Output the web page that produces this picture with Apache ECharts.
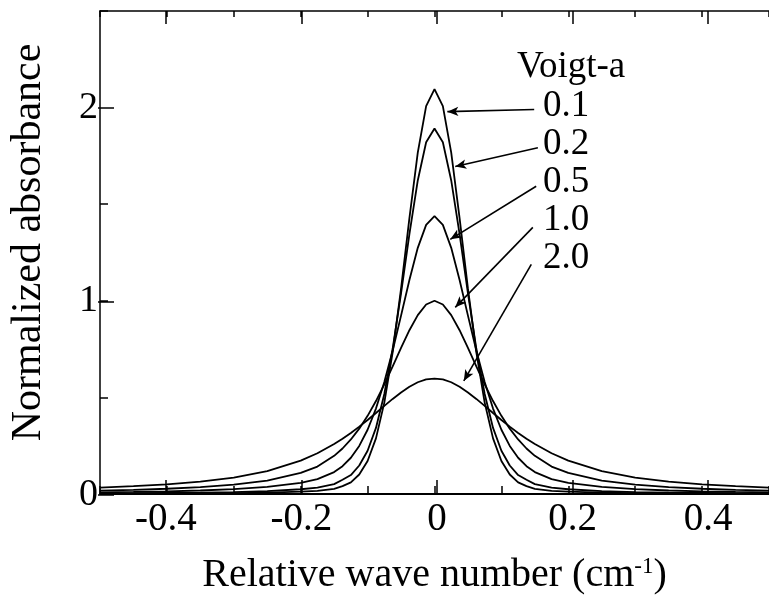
<!DOCTYPE html>
<html><head><meta charset="utf-8">
<script src="https://cdn.jsdelivr.net/npm/echarts@6/dist/echarts.min.js"></script>
<style>html,body{margin:0;padding:0;background:#fff}#c{width:769px;height:600px}</style>
</head><body><div id="c"></div>
<script>
// ---- data ----
const xValues = [-0.5,-0.45,-0.4,-0.35,-0.3,-0.25,-0.2,-0.175,-0.15,-0.1375,-0.125,-0.1125,-0.1,-0.0875,-0.075,-0.0625,-0.05,-0.0375,-0.025,-0.0125,0,
  0.0125,0.025,0.0375,0.05,0.0625,0.075,0.0875,0.1,0.1125,0.125,0.1375,0.15,0.175,0.2,0.25,0.3,0.35,0.4,0.45,0.5];
const voigtA = ['0.1','0.2','0.5','1.0','2.0'];
const curveA01 = [0.0017,0.0022,0.0028,0.0036,0.0050,0.0074,0.0122,0.0162,0.027,0.0409,0.060,0.1008,0.171,0.288,0.473,0.734,1.063,1.428,1.767,2.008,2.096,
  2.008,1.767,1.428,1.063,0.734,0.473,0.288,0.171,0.1008,0.060,0.0409,0.027,0.0162,0.0122,0.0074,0.0050,0.0036,0.0028,0.0022,0.0017];
const curveA02 = [0.0035,0.0043,0.0055,0.0073,0.0101,0.0149,0.0245,0.0326,0.051,0.0734,0.098,0.1475,0.224,0.342,0.518,0.753,1.038,1.345,1.623,1.821,1.892,
  1.821,1.623,1.345,1.038,0.753,0.518,0.342,0.224,0.1475,0.098,0.0734,0.051,0.0326,0.0245,0.0149,0.0101,0.0073,0.0055,0.0043,0.0035];
const curveA05 = [0.0087,0.0108,0.0137,0.0181,0.0249,0.0365,0.058,0.0774,0.1136,0.144,0.1876,0.2488,0.3325,0.4423,0.5798,0.7425,0.9232,1.1079,1.2742,1.3931,1.438,
  1.3931,1.2742,1.1079,0.9232,0.7425,0.5798,0.4423,0.3325,0.2488,0.1876,0.144,0.1136,0.0774,0.058,0.0365,0.0249,0.0181,0.0137,0.0108,0.0087];
const curveA10 = [0.0173,0.0213,0.0271,0.0355,0.0485,0.0695,0.109,0.1421,0.1975,0.2355,0.2822,0.3383,0.4046,0.4811,0.567,0.660,0.7559,0.8478,0.9261,0.981,1.0,
  0.981,0.9261,0.8478,0.7559,0.660,0.567,0.4811,0.4046,0.3383,0.2822,0.2355,0.1975,0.1421,0.109,0.0695,0.0485,0.0355,0.0271,0.0213,0.0173];
const curveA20 = [0.0332,0.0404,0.0502,0.0642,0.0852,0.1185,0.1726,0.2110,0.2585,0.2861,0.3162,0.3487,0.3832,0.4193,0.4560,0.4921,0.5258,0.5554,0.5785,0.5932,0.5975,
  0.5932,0.5785,0.5554,0.5258,0.4921,0.4560,0.4193,0.3832,0.3487,0.3162,0.2861,0.2585,0.2110,0.1726,0.1185,0.0852,0.0642,0.0502,0.0404,0.0332];
// arrow annotations (data coordinates): label end -> curve
const arrowFrom = [[0.149,1.990],[0.1545,1.792],[0.152,1.593],[0.147,1.380],[0.1447,1.189]];
const arrowTo   = [[0.0192,1.979],[0.031,1.695],[0.0236,1.318],[0.031,0.966],[0.0438,0.5855]];
const legendTitle = 'Voigt-a';
const xTitle = 'Relative wave number (cm{sup|-1})';
const yTitle = 'Normalized absorbance';

// ---- chart ----
const FONT = '"Liberation Serif","Times New Roman",serif';
const INK = '#000';
const chart = echarts.init(document.getElementById('c'), null, {renderer:'canvas'});
const gL = 98, gR = -7, gT = 11, gB = 105;
const W = 769 - gL - gR, H = 600 - gT - gB;
const curves = [curveA01, curveA02, curveA05, curveA10, curveA20];

const series = curves.map((vals, i) => ({
  type:'line', xAxisIndex:0, yAxisIndex:0, name: voigtA[i],
  data: xValues.map((x, j) => [x, vals[j]]),
  showSymbol:false, smooth:false, silent:true,
  lineStyle:{color:INK, width:1.8}
}));
series[0].markLine = {
  silent:true, symbol:['none','arrow'], symbolSize:[7,11],
  lineStyle:{color:INK, width:1.6, type:'solid'}, label:{show:false},
  data: arrowFrom.map((f, i) => [{coord:f}, {coord:arrowTo[i]}])
};

const noSplit = {show:false};
const option = {
  animation:false,
  backgroundColor:'#fff',
  grid:[
    {left:gL, right:gR, top:gT, bottom:gB},
    {left:gL + 0.1*W, right:gR + 0.1*W, top:gT, bottom:gB},
    {left:gL, right:gR, top:gT + 0.5*H/2.5, bottom:gB}
  ],
  xAxis:[
    {gridIndex:0, type:'value', min:-0.5, max:0.5, interval:0.1, position:'bottom',
     axisLine:{onZero:false, lineStyle:{color:INK, width:2}},
     axisTick:{inside:true, length:8, lineStyle:{color:INK, width:1.5}},
     axisLabel:{show:false}, splitLine:noSplit,
     name:xTitle, nameLocation:'middle', nameGap:61,
     nameTextStyle:{color:INK, fontFamily:FONT, fontSize:40,
       rich:{sup:{fontFamily:FONT, fontSize:23, color:INK, verticalAlign:'top', padding:[0,0,16,0]}}}},
    {gridIndex:0, type:'value', min:-0.5, max:0.5, interval:0.1, position:'top',
     axisLine:{onZero:false, lineStyle:{color:INK, width:1.5}},
     axisTick:{inside:true, length:6, lineStyle:{color:INK, width:1.5}},
     axisLabel:{show:false}, splitLine:noSplit},
    {gridIndex:1, type:'value', min:-0.4, max:0.4, interval:0.2, position:'bottom',
     axisLine:{show:false, onZero:false},
     axisTick:{inside:true, length:15, lineStyle:{color:INK, width:1.5}},
     axisLabel:{color:INK, fontFamily:FONT, fontSize:39, margin:5}, splitLine:noSplit},
    {gridIndex:1, type:'value', min:-0.4, max:0.4, interval:0.2, position:'top',
     axisLine:{show:false, onZero:false},
     axisTick:{inside:true, length:13, lineStyle:{color:INK, width:1.5}},
     axisLabel:{show:false}, splitLine:noSplit},
    {gridIndex:2, type:'value', min:-0.5, max:0.5, show:false}
  ],
  yAxis:[
    {gridIndex:0, type:'value', min:0, max:2.5, interval:0.5, position:'left',
     axisLine:{onZero:false, lineStyle:{color:INK, width:1.5}},
     axisTick:{inside:true, length:8, lineStyle:{color:INK, width:1.5}},
     axisLabel:{show:false}, splitLine:noSplit,
     name:yTitle, nameLocation:'middle', nameGap:50, nameRotate:90,
     nameTextStyle:{color:INK, fontFamily:FONT, fontSize:42, padding:[0,0,0,20]}},
    {gridIndex:1, type:'value', min:0, max:2.5, show:false},
    {gridIndex:2, type:'value', min:0, max:2, interval:1, position:'left',
     axisLine:{show:false, onZero:false},
     axisTick:{inside:true, length:16, lineStyle:{color:INK, width:1.5}},
     axisLabel:{color:INK, fontFamily:FONT, fontSize:38, margin:0}, splitLine:noSplit}
  ],
  graphic:[
    {type:'text', x:517, y:67, silent:true,
     style:{text:legendTitle, fontFamily:FONT, fontSize:37, fill:INK, align:'left', verticalAlign:'middle'}}
  ].concat(voigtA.map((t, i) => ({
    type:'text', x:543, y:106 + i*38, silent:true,
    style:{text:t, fontFamily:FONT, fontSize:37, fill:INK, align:'left', verticalAlign:'middle'}
  }))),
  series: series
};
chart.setOption(option);
</script>
</body></html>
